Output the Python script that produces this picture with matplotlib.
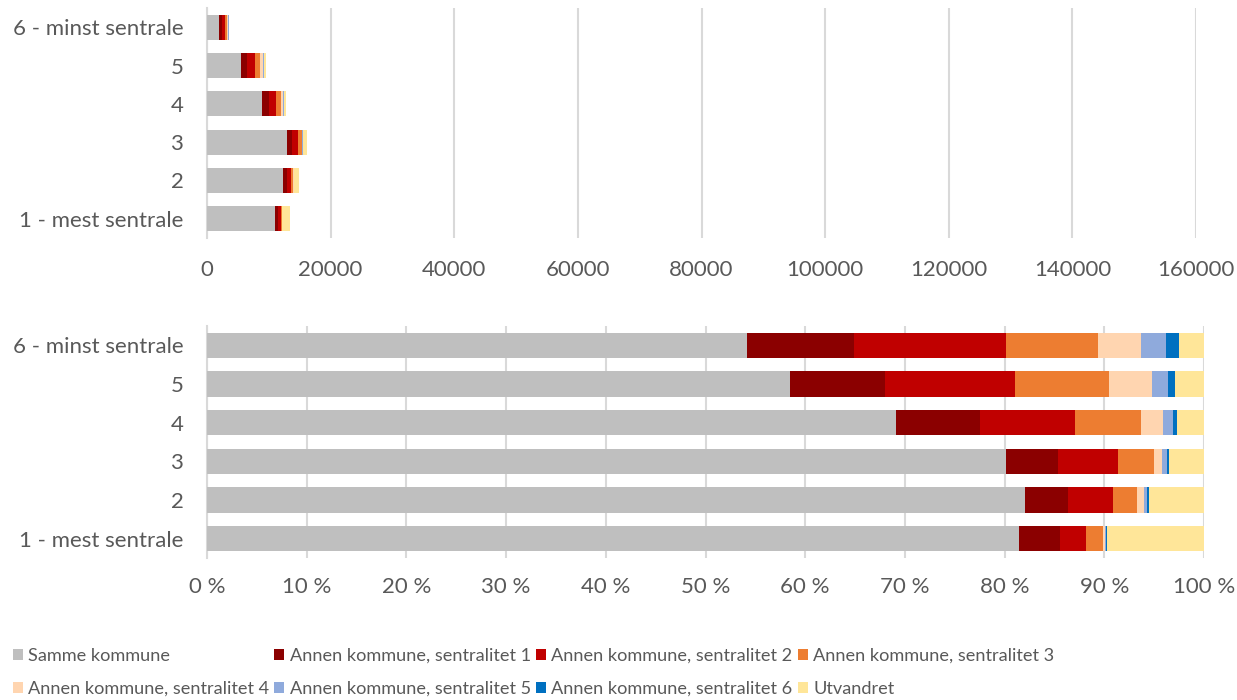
import numpy as np
import matplotlib
matplotlib.use("Agg")
import matplotlib.pyplot as plt

plt.rcParams['font.family'] = ['Lato', 'DejaVu Sans']

# Sentralitet-grupper (nederst til øverst)
kategorier = ['1 - mest sentrale', '2', '3', '4', '5', '6 - minst sentrale']

serier = ['Samme kommune',
          'Annen kommune, sentralitet 1',
          'Annen kommune, sentralitet 2',
          'Annen kommune, sentralitet 3',
          'Annen kommune, sentralitet 4',
          'Annen kommune, sentralitet 5',
          'Annen kommune, sentralitet 6',
          'Utvandret']

farger = ['#BFBFBF', '#8B0000', '#C00000', '#ED7D31',
          '#FFD5B0', '#8FAADC', '#0070C0', '#FFE699']

# Antall personer per serie, en verdi per kategori
samme_kommune = [11000, 12233, 12896, 8879, 5581, 1967]
sentralitet_1 = [553, 641, 853, 1079, 906, 388]
sentralitet_2 = [351, 671, 966, 1234, 1250, 555]
sentralitet_3 = [230, 358, 580, 848, 897, 334]
sentralitet_4 = [27, 104, 129, 283, 410, 156]
sentralitet_5 = [14, 45, 81, 129, 153, 91]
sentralitet_6 = [14, 30, 32, 51, 67, 47]
utvandret = [1310, 820, 564, 347, 277, 91]

verdier = np.array([samme_kommune, sentralitet_1, sentralitet_2, sentralitet_3,
                    sentralitet_4, sentralitet_5, sentralitet_6, utvandret], dtype=float)
andel = verdier / verdier.sum(axis=0) * 100

tekstfarge = '#595959'
gridfarge = '#D9D9D9'

fig = plt.figure(figsize=(12.37, 7), dpi=100)
ax1 = fig.add_axes([207/1237, 1-238/700, 989/1237, 230/700])
ax2 = fig.add_axes([207/1237, 1-558/700, 997/1237, 232/700])

y = np.arange(len(kategorier))
hoyde = 0.65

for ax, data in [(ax1, verdier), (ax2, andel)]:
    venstre = np.zeros(len(kategorier))
    for i, navn in enumerate(serier):
        ax.barh(y, data[i], left=venstre, height=hoyde, color=farger[i],
                label=navn, linewidth=0, zorder=3)
        venstre += data[i]
    ax.set_yticks(y)
    ax.set_yticklabels(kategorier)
    ax.set_ylim(-0.5, 5.5)
    for s in ['top', 'right', 'bottom']:
        ax.spines[s].set_visible(False)
    ax.spines['left'].set_color(gridfarge)
    ax.spines['left'].set_linewidth(1.5)
    ax.tick_params(length=0, colors=tekstfarge, labelsize=16)
    ax.tick_params(axis='y', pad=17)
    ax.grid(axis='x', color=gridfarge, linewidth=1.5, zorder=0)

ax1.set_xlim(0, 160000)
ax1.set_xticks(np.arange(0, 160001, 20000))
ax1.set_xticklabels([str(v) for v in range(0, 160001, 20000)])
ax1.tick_params(axis='x', pad=16)

ax2.set_xlim(0, 100)
ax2.set_xticks(np.arange(0, 101, 10))
ax2.set_xticklabels([f'{v} %' for v in range(0, 101, 10)])
ax2.tick_params(axis='x', pad=14)

# Legende i radrekkefølge
h, l = ax2.get_legend_handles_labels()
rekkefolge = [0, 4, 1, 5, 2, 6, 3, 7]
fig.legend([h[i] for i in rekkefolge], [l[i] for i in rekkefolge],
           ncol=4, loc='lower left', bbox_to_anchor=(0.0, -0.014),
           frameon=False, fontsize=13.1, labelcolor=tekstfarge,
           handlelength=0.55, handleheight=0.6, handletextpad=0.28,
           columnspacing=0.3, labelspacing=0.95, borderaxespad=0.3)

fig.savefig('out.png', dpi=100)
